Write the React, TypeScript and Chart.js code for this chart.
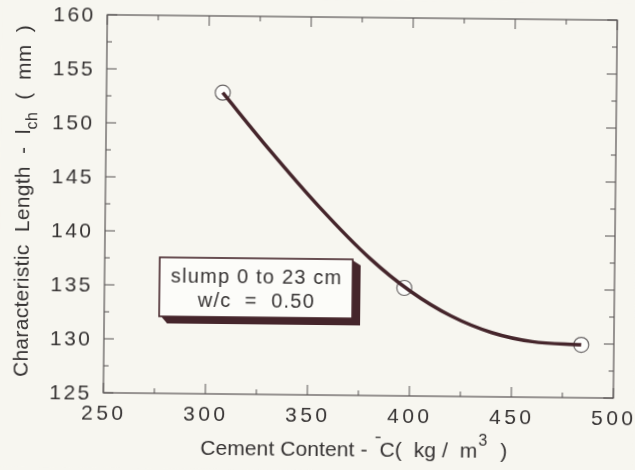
import { useEffect, useRef } from "react";
import { Chart, registerables } from "chart.js";

Chart.register(...registerables);

// Axis ticks
const xTickValues = [250, 300, 350, 400, 450, 500];
const xMinorValues = [275, 325, 375, 425, 475];
const yTickValues = [125, 130, 135, 140, 145, 150, 155, 160];
const yMinorValues = [127.5, 132.5, 137.5, 142.5, 147.5, 152.5, 157.5];

// Measured points: cement content (kg/m3) vs characteristic length (mm)
const cementContent = [307, 397, 484];
const charLength = [152.9, 135.0, 129.9];

// Trend curve through the measurements
const trendCement = [307, 330, 355, 380, 400, 420, 440, 460, 484];
const trendLength = [152.9, 147.7, 142.4, 137.7, 134.7, 132.45, 130.95, 130.15, 129.9];

// Note box text
const noteLines = ["slump 0 to 23 cm", "w/c  =  0.50"];

const INK = "#363333";
const CURVE = "#45252b";
const PAPER = "#f7f6f0";
const FONT = "'Liberation Sans', Arial, sans-serif";

function spacedText(ctx: CanvasRenderingContext2D, text: string, x: number, y: number, spacing: number, align: "left" | "center" | "right") {
  ctx.save();
  (ctx as any).letterSpacing = spacing + "px";
  ctx.textAlign = "left";
  const w = ctx.measureText(text).width - spacing;
  let sx = x;
  if (align === "center") sx = x - w / 2;
  if (align === "right") sx = x - w;
  ctx.fillText(text, sx, y);
  ctx.restore();
}

const axesPlugin = {
  id: "paperAxes",
  beforeDraw(chart: any) {
    const { ctx, width, height } = chart;
    ctx.save();
    ctx.fillStyle = PAPER;
    ctx.fillRect(0, 0, width, height);
    ctx.restore();
  },
  beforeDatasetsDraw(chart: any) {
    const { ctx, chartArea: a, scales } = chart;
    const xs = scales.x;
    const ys = scales.y;
    ctx.save();
    ctx.strokeStyle = "#575353";
    ctx.lineWidth = 1.2;
    ctx.strokeRect(a.left, a.top, a.right - a.left, a.bottom - a.top);

    ctx.lineWidth = 1;
    const major = 10;
    const minor = 5;
    ctx.beginPath();
    const xTick = (v: number, len: number) => {
      const px = xs.getPixelForValue(v);
      ctx.moveTo(px, a.bottom);
      ctx.lineTo(px, a.bottom - len);
      ctx.moveTo(px, a.top);
      ctx.lineTo(px, a.top + len);
    };
    const yTick = (v: number, len: number) => {
      const py = ys.getPixelForValue(v);
      ctx.moveTo(a.left, py);
      ctx.lineTo(a.left + len, py);
      ctx.moveTo(a.right, py);
      ctx.lineTo(a.right - len, py);
    };
    xTickValues.forEach((v) => xTick(v, major));
    xMinorValues.forEach((v) => xTick(v, minor));
    yTickValues.forEach((v) => yTick(v, major));
    yMinorValues.forEach((v) => yTick(v, minor));
    ctx.stroke();

    // tick labels
    ctx.fillStyle = INK;
    ctx.font = `21px ${FONT}`;
    ctx.textBaseline = "middle";
    xTickValues.forEach((v) => {
      spacedText(ctx, String(v), xs.getPixelForValue(v) - 1, a.bottom + 21, 3.5, "center");
    });
    yTickValues.forEach((v) => {
      spacedText(ctx, String(v), a.left - 14, ys.getPixelForValue(v) + 1, 2.5, "right");
    });

    // x title: Cement Content - C( kg / m3 )
    ctx.textBaseline = "alphabetic";
    ctx.textAlign = "left";
    (ctx as any).letterSpacing = "0.1px";
    const xt1 = "Cement Content -  ";
    const xt2 = "C(  kg /  m";
    const xt3 = "3";
    const xt4 = "  )";
    ctx.font = `21px ${FONT}`;
    const w1 = ctx.measureText(xt1).width;
    const w2 = ctx.measureText(xt2).width;
    const w4 = ctx.measureText(xt4).width;
    ctx.font = `16px ${FONT}`;
    const w3 = ctx.measureText(xt3).width;
    const total = w1 + w2 + w3 + 2 + w4;
    let tx = 356 - total / 2;
    const ty = a.bottom + 61;
    ctx.font = `21px ${FONT}`;
    ctx.fillText(xt1, tx, ty);
    tx += w1;
    // small bar above the C
    ctx.fillRect(tx - 4, ty - 20, 5, 1.3);
    ctx.fillText(xt2, tx, ty);
    tx += w2 + 1;
    ctx.font = `16px ${FONT}`;
    ctx.fillText(xt3, tx, ty - 12);
    tx += w3 + 1;
    ctx.font = `21px ${FONT}`;
    ctx.fillText(xt4, tx, ty);

    // y title: Characteristic Length - l_ch ( mm )
    ctx.save();
    (ctx as any).letterSpacing = "0.3px";
    ctx.translate(29, 204);
    ctx.rotate(-Math.PI / 2);
    const yt1 = "Characteristic  Length  -  l";
    const yt2 = "ch";
    const yt3 = "  (  mm  )";
    ctx.font = `21px ${FONT}`;
    const v1 = ctx.measureText(yt1).width;
    const v3 = ctx.measureText(yt3).width;
    ctx.font = `16px ${FONT}`;
    const v2 = ctx.measureText(yt2).width;
    let ux = -(v1 + v2 + v3) / 2;
    ctx.font = `21px ${FONT}`;
    ctx.fillText(yt1, ux, 0);
    ux += v1;
    ctx.font = `16px ${FONT}`;
    ctx.fillText(yt2, ux, 7);
    ux += v2;
    ctx.font = `21px ${FONT}`;
    ctx.fillText(yt3, ux, 0);
    ctx.restore();

    ctx.restore();
  },
  afterDatasetsDraw(chart: any) {
    const { ctx, chartArea: a } = chart;
    // note box with a drop shadow
    const bx = a.left + 55;
    const by = a.top + 242;
    const bw = 193;
    const bh = 59;
    const sx = 8;
    const sy = 7;
    ctx.save();
    ctx.fillStyle = CURVE;
    ctx.beginPath();
    ctx.moveTo(bx + 2, by + bh);
    ctx.lineTo(bx + sx, by + bh + sy);
    ctx.lineTo(bx + bw + sx, by + bh + sy);
    ctx.lineTo(bx + bw + sx, by + sy - 1);
    ctx.lineTo(bx + bw, by + 1);
    ctx.closePath();
    ctx.fill();
    ctx.fillStyle = "#fcfcf9";
    ctx.fillRect(bx, by, bw, bh);
    ctx.strokeStyle = CURVE;
    ctx.lineWidth = 1.6;
    ctx.strokeRect(bx, by, bw, bh);

    ctx.fillStyle = INK;
    ctx.font = `20px ${FONT}`;
    ctx.textBaseline = "alphabetic";
    spacedText(ctx, noteLines[0], bx + bw / 2, by + 25, 1.2, "center");
    spacedText(ctx, noteLines[1], bx + bw / 2, by + 49, 1.2, "center");
    ctx.restore();
  },
};

export default function App() {
  const canvasRef = useRef<HTMLCanvasElement | null>(null);

  useEffect(() => {
    const canvas = canvasRef.current;
    if (!canvas) return;
    const chart = new Chart(canvas, {
      type: "scatter",
      data: {
        datasets: [
          {
            label: "trend",
            data: trendCement.map((x, i) => ({ x, y: trendLength[i] })),
            showLine: true,
            borderColor: CURVE,
            borderWidth: 3.5,
            pointRadius: 0,
            cubicInterpolationMode: "monotone",
            fill: false,
          },
          {
            label: "measured",
            data: cementContent.map((x, i) => ({ x, y: charLength[i] })),
            showLine: false,
            pointRadius: 7.5,
            pointBackgroundColor: "#fdfdfb",
            pointBorderColor: "#6a6666",
            pointBorderWidth: 1.2,
          },
        ],
      },
      options: {
        responsive: false,
        animation: false,
        devicePixelRatio: 1,
        layout: { padding: { left: 105, top: 17, right: 20, bottom: 75 } },
        plugins: { legend: { display: false }, tooltip: { enabled: false } },
        scales: {
          x: { type: "linear", min: 250, max: 500, display: false },
          y: { type: "linear", min: 125, max: 160, display: false },
        },
      },
      plugins: [axesPlugin],
    });
    return () => chart.destroy();
  }, []);

  return (
    <div style={{ position: "fixed", left: 0, top: 0, width: 635, height: 470, background: PAPER, overflow: "hidden" }}>
      <canvas
        ref={canvasRef}
        width={635}
        height={470}
        style={{ display: "block", width: 635, height: 470, transform: "rotate(0.6deg)" }}
      />
    </div>
  );
}
